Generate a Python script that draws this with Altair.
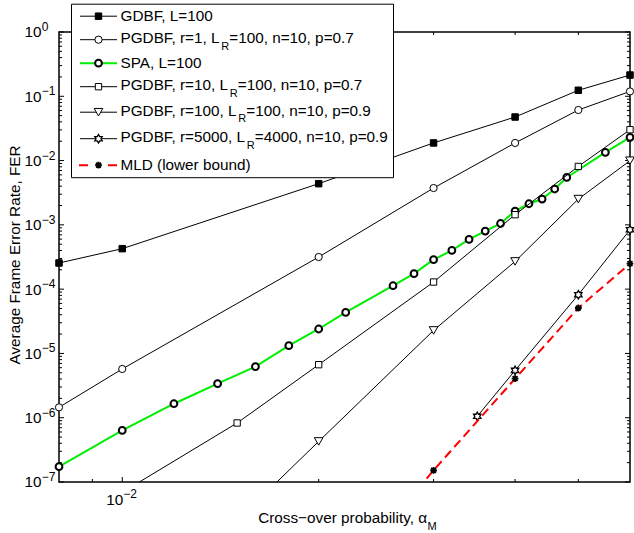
import math
import altair as alt
import pandas as pd

# ---------------- data ----------------
x_gdbf = [0.008, 0.01, 0.02, 0.03, 0.04, 0.05, 0.06]
fer_gdbf = [2.55e-4, 4.26e-4, 4.37e-3, 1.88e-2, 4.76e-2, 1.24e-1, 2.14e-1]

x_pg1 = [0.008, 0.01, 0.02, 0.03, 0.04, 0.05, 0.06]
fer_pg1 = [1.45e-6, 5.73e-6, 3.16e-4, 3.74e-3, 1.88e-2, 6.12e-2, 1.19e-1]

x_spa = [0.008, 0.01, 0.012, 0.014, 0.016, 0.018, 0.02, 0.022, 0.026, 0.028, 0.03,
         0.032, 0.034, 0.036, 0.038, 0.04, 0.042, 0.044, 0.046, 0.048, 0.055, 0.06]
fer_spa = [1.73e-7, 6.35e-7, 1.65e-6, 3.38e-6, 6.22e-6, 1.32e-5, 2.40e-5, 4.35e-5,
           1.13e-4, 1.74e-4, 2.87e-4, 4.0e-4, 5.94e-4, 8.0e-4, 1.05e-3, 1.64e-3,
           2.13e-3, 2.52e-3, 3.61e-3, 5.47e-3, 1.34e-2, 2.30e-2]

x_pg10 = [0.01, 0.015, 0.02, 0.03, 0.04, 0.05, 0.06]
fer_pg10 = [6.9e-8, 8.28e-7, 6.68e-6, 1.29e-4, 1.44e-3, 8.11e-3, 3.02e-2]

x_pg100 = [0.015, 0.02, 0.03, 0.04, 0.05, 0.06]
fer_pg100 = [2.5e-8, 4.28e-7, 2.28e-5, 2.70e-4, 2.52e-3, 9.95e-3]

x_pg5000 = [0.035, 0.04, 0.05, 0.06]
fer_pg5000 = [1.05e-6, 5.45e-6, 8.2e-5, 8.4e-4]

x_mld = [0.025, 0.03, 0.04, 0.05, 0.06]
fer_mld = [1.64e-8, 1.52e-7, 4.05e-6, 5.09e-5, 2.49e-4]

legend_main = ["GDBF, L=100", "PGDBF, r=1, L", "SPA, L=100", "PGDBF, r=10, L",
               "PGDBF, r=100, L", "PGDBF, r=5000, L", "MLD (lower bound)"]
legend_sub = ["", "R", "", "R", "R", "R", ""]
legend_tail = ["", "=100, n=10, p=0.7", "", "=100, n=10, p=0.7",
               "=100, n=10, p=0.9", "=4000, n=10, p=0.9", ""]

y_tick_exponents = [0, -1, -2, -3, -4, -5, -6, -7]
x_major_ticks = [0.01]
x_minor_ticks = [0.009, 0.02, 0.03, 0.04, 0.05]
x_label_ticks = [0.01]
x_label_exps = ["\u22122"]

y_title = "Average Frame Error Rate, FER"
x_title = "Cross\u2212over probability, \u03b1"
x_title_sub = "M"

# ---------------- layout / style ----------------
W, H = 571, 450
FONT = "Liberation Sans"
FS = 15.3
SUBFS = 11
SUPFS = 12
xs = alt.Scale(type="log", domain=[0.008, 0.06])
ys = alt.Scale(type="log", domain=[1e-7, 1])

# Arial / Liberation Sans advance widths (per 1000 em)
AW = {' ': 278, ',': 278, '.': 278, '=': 584, '(': 333, ')': 333, '-': 333,
      'A': 667, 'B': 667, 'D': 722, 'F': 611, 'G': 778, 'L': 556, 'M': 833,
      'P': 667, 'R': 722, 'S': 667, 'a': 556, 'b': 556, 'd': 556, 'e': 556,
      'l': 222, 'n': 556, 'o': 556, 'p': 556, 'r': 333, 'u': 556, 'w': 722}


def tw(s, fs):
    return sum(AW.get(c, 556) for c in s) * fs / 1000.0


# star (hexagram) outline and asterisk paths
pts = []
for k in range(12):
    ang = math.radians(-90 + 30 * k)
    r = 1.0 if k % 2 == 0 else 1 / math.sqrt(3)
    pts.append((r * math.cos(ang), r * math.sin(ang)))
STAR = "M" + "L".join(f"{px:.3f},{py:.3f}" for px, py in pts) + "Z"
AST = "M-1,0L1,0M0,-1L0,1M-0.72,-0.72L0.72,0.72M-0.72,0.72L0.72,-0.72"

series = [
    dict(x=x_gdbf, y=fer_gdbf, color="black", lw=1, shape="square", size=42, fill="black", sw=1),
    dict(x=x_pg1, y=fer_pg1, color="black", lw=1, shape="circle", size=52, fill="white", sw=1),
    dict(x=x_spa, y=fer_spa, color="#00ee00", lw=2, shape="circle", size=46, fill="white", sw=2),
    dict(x=x_pg10, y=fer_pg10, color="black", lw=1, shape="square", size=40, fill="white", sw=1),
    dict(x=x_pg100, y=fer_pg100, color="black", lw=1, shape="triangle-down", size=75, fill="white", sw=1),
    dict(x=x_pg5000, y=fer_pg5000, color="black", lw=1, shape=STAR, size=72, fill="white", sw=1.3),
    dict(x=x_mld, y=fer_mld, color="red", lw=2, shape=AST, size=46, fill="transparent", sw=1.8, dash=[9, 5]),
]

layers = []

# ticks (inward, both sides)
ymaj = pd.DataFrame({"v": [10.0 ** e for e in y_tick_exponents]})
ymin = pd.DataFrame({"v": [m * 10.0 ** e for e in y_tick_exponents if e < 0 for m in range(2, 10)]})
for df, ln in [(ymaj, 5), (ymin, 3)]:
    for x0, x1 in [(0, ln), (W, W - ln)]:
        layers.append(alt.Chart(df).mark_rule(color="black", strokeWidth=1).encode(
            y=alt.Y("v:Q", scale=ys, axis=None), x=alt.value(x0), x2=alt.value(x1)))
xmaj = pd.DataFrame({"v": x_major_ticks})
xmin = pd.DataFrame({"v": x_minor_ticks})
for df, ln in [(xmaj, 5), (xmin, 3)]:
    for y0, y1 in [(H, H - ln), (0, ln)]:
        layers.append(alt.Chart(df).mark_rule(color="black", strokeWidth=1).encode(
            x=alt.X("v:Q", scale=xs, axis=None), y=alt.value(y0), y2=alt.value(y1)))

# series
for s in series:
    df = pd.DataFrame({"x": s["x"], "fer": s["y"]})
    lkw = dict(color=s["color"], strokeWidth=s["lw"], clip=True)
    if "dash" in s:
        lkw["strokeDash"] = s["dash"]
    enc = dict(x=alt.X("x:Q", scale=xs, axis=None), y=alt.Y("fer:Q", scale=ys, axis=None))
    layers.append(alt.Chart(df).mark_line(**lkw).encode(**enc))
    layers.append(alt.Chart(df).transform_filter("datum.fer >= 1e-7").mark_point(
        shape=s["shape"], size=s["size"], filled=True, fill=s["fill"], stroke="black",
        strokeWidth=s["sw"], opacity=1).encode(**enc))

# y tick labels (10 with superscript exponent)
ylab = pd.DataFrame({"v": [10.0 ** e for e in y_tick_exponents],
                     "base": ["10"] * len(y_tick_exponents),
                     "sup": [str(e).replace("-", "\u2212") for e in y_tick_exponents]})
layers.append(alt.Chart(ylab).mark_text(align="left", baseline="alphabetic", font=FONT,
                                        fontSize=FS, dy=5.4, color="black").encode(
    y=alt.Y("v:Q", scale=ys, axis=None), x=alt.value(-34.5), text="base:N"))
layers.append(alt.Chart(ylab).mark_text(align="left", baseline="alphabetic", font=FONT,
                                        fontSize=SUPFS, dy=-1, color="black").encode(
    y=alt.Y("v:Q", scale=ys, axis=None), x=alt.value(-17.3), text="sup:N"))

# x tick label
xlab = pd.DataFrame({"v": x_label_ticks, "base": ["10"] * len(x_label_ticks), "sup": x_label_exps})
layers.append(alt.Chart(xlab).mark_text(align="right", baseline="alphabetic", font=FONT,
                                        fontSize=FS, dx=1, color="black").encode(
    x=alt.X("v:Q", scale=xs, axis=None), y=alt.value(H + 23), text="base:N"))
layers.append(alt.Chart(xlab).mark_text(align="left", baseline="alphabetic", font=FONT,
                                        fontSize=SUPFS, dx=1, color="black").encode(
    x=alt.X("v:Q", scale=xs, axis=None), y=alt.value(H + 16), text="sup:N"))

# axis titles
tdf = pd.DataFrame({"yt": [y_title], "xt": [x_title], "xs": [x_title_sub]})
layers.append(alt.Chart(tdf).mark_text(angle=270, align="center", baseline="alphabetic",
                                       font=FONT, fontSize=FS, color="black").encode(
    x=alt.value(-39), y=alt.value(223), text="yt:N"))
layers.append(alt.Chart(tdf).mark_text(align="right", baseline="alphabetic",
                                       font=FONT, fontSize=FS, color="black").encode(
    x=alt.value(368), y=alt.value(H + 41), text="xt:N"))
layers.append(alt.Chart(tdf).mark_text(align="left", baseline="alphabetic",
                                       font=FONT, fontSize=SUBFS, color="black").encode(
    x=alt.value(368.5), y=alt.value(H + 47.5), text="xs:N"))

# legend
TOP = 32.3
row_y_abs = [16.5, 40, 63.5, 87, 112.5, 139, 165.5]
TX = 61.5
leg = pd.DataFrame({
    "main": legend_main, "sub": legend_sub, "tail": legend_tail,
    "ly": [v - TOP for v in row_y_abs],
})
leg["ty"] = [ly + (3.5 if sb else 5.2) for ly, sb in zip(leg["ly"], leg["sub"])]
leg["sy"] = leg["ty"] + 6.5
leg["xs"] = [TX + tw(m, FS) for m in legend_main]
leg["xt"] = [xsb + tw(sb, SUBFS) for xsb, sb in zip(leg["xs"], legend_sub)]
leg["lc"] = [s["color"] for s in series]
leg["lw"] = [s["lw"] for s in series]
leg["shape"] = [s["shape"] for s in series]
leg["fill"] = [s["fill"] for s in series]
leg["sw"] = [s["sw"] for s in series]
leg["sz"] = [s["size"] for s in series]
leg["dashed"] = ["dash" in s for s in series]

box = pd.DataFrame({"a": [0]})
layers.append(alt.Chart(box).mark_rect(fill="white", stroke="black", strokeWidth=1).encode(
    x=alt.value(12.5), x2=alt.value(334.5), y=alt.value(4.5 - TOP), y2=alt.value(178 - TOP)))

legc = alt.Chart(leg)
layers.append(legc.transform_filter("!datum.dashed").mark_rule().encode(
    x=alt.value(21), x2=alt.value(58), y=alt.Y("ly:Q", scale=None),
    color=alt.Color("lc:N", scale=None), strokeWidth=alt.StrokeWidth("lw:Q", scale=None)))
layers.append(legc.transform_filter("datum.dashed").mark_rule(strokeDash=[9, 20]).encode(
    x=alt.value(20), x2=alt.value(58), y=alt.Y("ly:Q", scale=None),
    color=alt.Color("lc:N", scale=None), strokeWidth=alt.StrokeWidth("lw:Q", scale=None)))
layers.append(legc.mark_point(filled=True, stroke="black", opacity=1).encode(
    x=alt.value(39.5), y=alt.Y("ly:Q", scale=None),
    shape=alt.Shape("shape:N", scale=None), fill=alt.Fill("fill:N", scale=None),
    strokeWidth=alt.StrokeWidth("sw:Q", scale=None), size=alt.Size("sz:Q", scale=None)))
layers.append(legc.mark_text(align="left", baseline="alphabetic", font=FONT, fontSize=FS,
                             color="black").encode(
    x=alt.value(TX), y=alt.Y("ty:Q", scale=None), text="main:N"))
layers.append(legc.mark_text(align="left", baseline="alphabetic", font=FONT, fontSize=SUBFS,
                             color="black").encode(
    x=alt.X("xs:Q", scale=None), y=alt.Y("sy:Q", scale=None), text="sub:N"))
layers.append(legc.mark_text(align="left", baseline="alphabetic", font=FONT, fontSize=FS,
                             color="black").encode(
    x=alt.X("xt:Q", scale=None), y=alt.Y("ty:Q", scale=None), text="tail:N"))

chart = alt.layer(*layers).properties(
    width=W, height=H,
    padding={"left": 59, "top": 32, "right": 4, "bottom": 51},
    autosize=alt.AutoSizeParams(type="none"),
    background="white",
).configure_view(stroke="black", strokeWidth=1.5)

chart.save("out.html", embed_options={"renderer": "svg", "actions": False})
